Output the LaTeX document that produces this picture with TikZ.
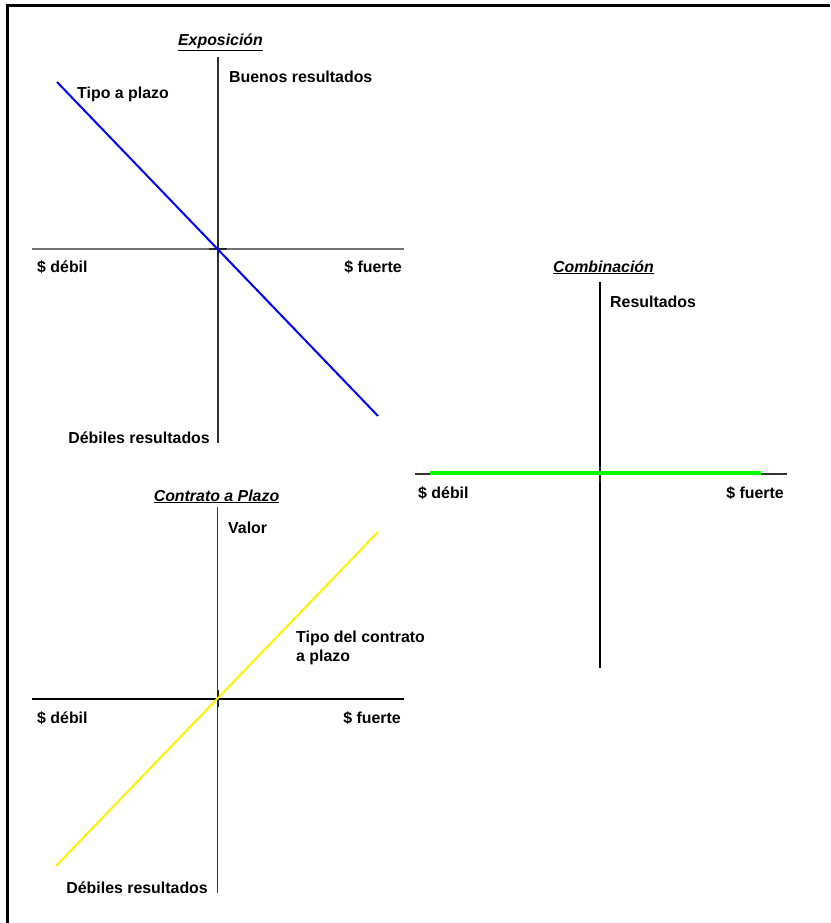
\documentclass[tikz,border=0pt]{standalone}
\usepackage{fontspec}
\setmainfont{Liberation Sans}
\begin{document}
\begin{tikzpicture}[x=1pt,y=-1pt,
  lbl/.style={inner sep=0pt,font=\fontsize{15.9pt}{19pt}\selectfont\bfseries},
  ttl/.style={lbl,font=\fontsize{15.9pt}{19pt}\selectfont\bfseries\itshape},
  axlight/.style={draw=black!55,line width=1.1pt},
  axdark/.style={draw=black!80,line width=1.1pt},
  axblack/.style={draw=black,line width=1.1pt},
  tick/.style={draw=black!85,line width=2pt},
  frameline/.style={draw=black,line width=3pt}]
\useasboundingbox (0,0) rectangle (830,923);

% outer frame (top and left edges only)
\coordinate (f1) at (830,6);
\coordinate (f2) at (7,6);
\coordinate (f3) at (7,923);
\draw[frameline] (f1) -- (f2) -- (f3);

% ---------------- Exposición ----------------
\coordinate (e-l) at (32,249);
\coordinate (e-r) at (404,249);
\coordinate (e-t) at (218,57);
\coordinate (e-b) at (218,443);
\draw[axlight] (e-l) -- (e-r);
\draw[axdark] (e-t) -- (e-b);
\coordinate (e-o) at (218,249);
\draw[tick] ([xshift=-9pt]e-o) -- ([xshift=9pt]e-o);
\draw[tick] ([yshift=-8pt]e-o) -- ([yshift=9pt]e-o);
\coordinate (e-s) at (57,82);
\coordinate (e-e) at (378,416);
\draw[blue,line width=2pt] (e-s) -- (e-e);
\node[ttl,anchor=base] (e-title) at (220.5,46) {\underline{Exposición}};
\node[lbl,anchor=base west] (e-up) at (229,83) {Buenos resultados};
\node[lbl,anchor=base west] (e-line) at (77,99) {Tipo a plazo};
\node[lbl,anchor=base west] (e-weak) at (37,272) {\$ débil};
\node[lbl,anchor=base east] (e-strong) at (402,272) {\$ fuerte};
\node[lbl,anchor=base east] (e-down) at (210,443) {Débiles resultados};

% ---------------- Combinación ----------------
\coordinate (c-l) at (415,474);
\coordinate (c-r) at (787,474);
\coordinate (c-t) at (600,282);
\coordinate (c-b) at (600,668);
\draw[axdark] (c-l) -- (c-r);
\draw[axblack] (c-t) -- (c-b);
\coordinate (c-o) at (600,474);
\draw[draw=black!60,line width=2pt] ([xshift=-9pt]c-o) -- ([xshift=9pt]c-o);
\draw[tick] ([yshift=-8pt]c-o) -- ([yshift=8pt]c-o);
\coordinate (c-s) at (430,473);
\coordinate (c-e) at (761,473);
\draw[green,line width=4pt] (c-s) -- (c-e);
\node[ttl,anchor=base] (c-title) at (603.5,272) {\underline{Combinación}};
\node[lbl,anchor=base west] (c-up) at (610,307) {Resultados};
\node[lbl,anchor=base west] (c-weak) at (418,498) {\$ débil};
\node[lbl,anchor=base east] (c-strong) at (784,498) {\$ fuerte};

% ---------------- Contrato a Plazo ----------------
\coordinate (k-l) at (32,699);
\coordinate (k-r) at (404,699);
\coordinate (k-t) at (217.5,507);
\coordinate (k-b) at (217.5,893);
\draw[axblack] (k-l) -- (k-r);
\draw[axdark] (k-t) -- (k-b);
\coordinate (k-o) at (217.5,699);
\draw[tick] ([yshift=-8pt]k-o) -- ([yshift=9pt]k-o);
\coordinate (k-s) at (56,866);
\coordinate (k-e) at (378,532);
\draw[yellow,line width=2pt] (k-s) -- (k-e);
\node[ttl,anchor=base] (k-title) at (216.5,501) {\underline{Contrato a Plazo}};
\node[lbl,anchor=base west] (k-up) at (228,533) {Valor};
\node[lbl,anchor=base west] (k-line1) at (296,642) {Tipo del contrato};
\node[lbl,anchor=base west] (k-line2) at (296,661) {a plazo};
\node[lbl,anchor=base west] (k-weak) at (37,723) {\$ débil};
\node[lbl,anchor=base east] (k-strong) at (401,723) {\$ fuerte};
\node[lbl,anchor=base east] (k-down) at (208,893) {Débiles resultados};
\end{tikzpicture}
\end{document}
